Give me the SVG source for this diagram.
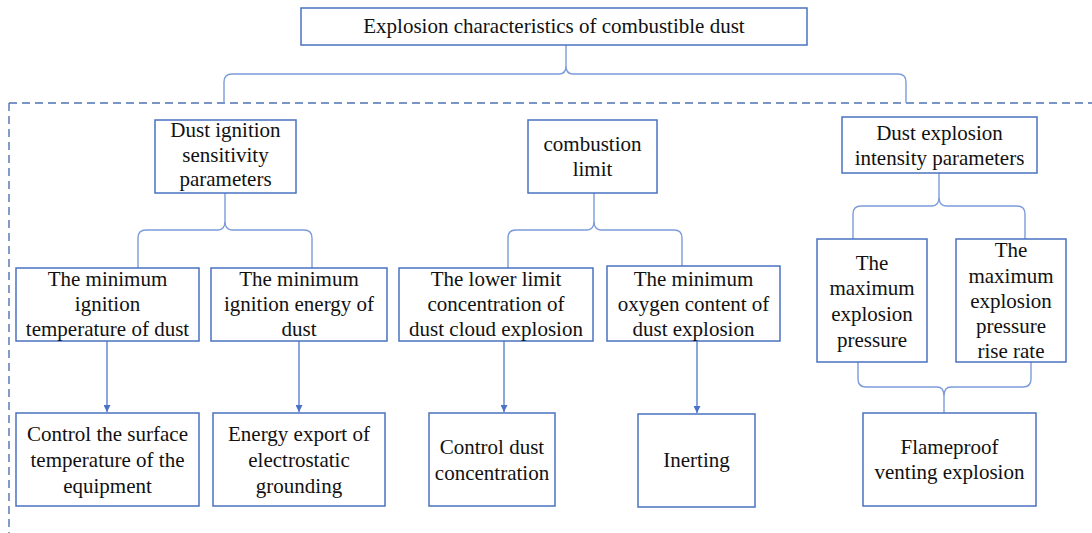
<svg xmlns="http://www.w3.org/2000/svg" width="1092" height="533" viewBox="0 0 1092 533">
<defs>
<style>
.box{fill:#fff;stroke:#4A72C0;stroke-width:1.5}
.t{font-family:'Liberation Serif',Tinos,'Times New Roman','DejaVu Serif',serif;font-size:21px;fill:#111;text-anchor:middle}
.br{fill:none;stroke:#7C9CDB;stroke-width:1.4}
.ar{fill:none;stroke:#5B82D0;stroke-width:1.4}
.dash{fill:none;stroke:#4E72B3;stroke-width:1.4;stroke-dasharray:8,5}
</style>
<marker id="ah" viewBox="0 0 10 10" refX="10" refY="5" markerWidth="7" markerHeight="7" markerUnits="userSpaceOnUse" orient="auto">
<path d="M0,0 L10,5 L0,10 Z" fill="#4A72C8"/>
</marker>
</defs>
<rect width="1092" height="533" fill="#fff"/>

<g id="connectors">
<path class="dash" d="M9,103 H1092 M9,103 V533"/>
<path class="br" d="M566,45 V66 M224,103 V82 Q224,74 232,74 H559 Q566,74 566,66 Q566,74 573,74 H898 Q906,74 906,82 V103"/>
<path class="br" d="M225,193 V221 M138,268 V238 Q138,230 146,230 H218 Q225,230 225,221 Q225,230 232,230 H304 Q312,230 312,238 V268"/>
<path class="br" d="M594,193 V221 M508,268 V238 Q508,230 516,230 H587 Q594,230 594,221 Q594,230 601,230 H674 Q682,230 682,238 V266"/>
<path class="br" d="M939,173 V197 M853,239 V214 Q853,206 861,206 H932 Q939,206 939,197 Q939,206 946,206 H1017 Q1025,206 1025,214 V239"/>
<path class="br" d="M944,396 V413 M858,362 V379 Q858,387 866,387 H937 Q944,387 944,396 Q944,387 951,387 H1023 Q1031,387 1031,379 V362"/>
<line class="ar" x1="107" y1="341" x2="107" y2="412" marker-end="url(#ah)"/>
<line class="ar" x1="299" y1="341" x2="299" y2="412" marker-end="url(#ah)"/>
<line class="ar" x1="504" y1="341" x2="504" y2="412" marker-end="url(#ah)"/>
<line class="ar" x1="697" y1="341" x2="697" y2="413" marker-end="url(#ah)"/>
</g>

<g id="root">
<rect class="box" x="301" y="8" width="506" height="37"/>
<text class="t" x="554" y="33">Explosion characteristics of combustible dust</text>
</g>

<g id="ignition-sensitivity">
<rect class="box" x="155" y="120" width="141" height="73"/>
<text class="t" x="225.5" y="137">Dust ignition</text>
<text class="t" x="225.5" y="162">sensitivity</text>
<text class="t" x="225.5" y="186">parameters</text>
</g>

<g id="combustion-limit">
<rect class="box" x="528" y="120" width="129" height="73"/>
<text class="t" x="592.5" y="151">combustion</text>
<text class="t" x="592.5" y="176">limit</text>
</g>

<g id="intensity">
<rect class="box" x="842" y="117" width="195" height="56"/>
<text class="t" x="939.5" y="140">Dust explosion</text>
<text class="t" x="939.5" y="165">intensity parameters</text>
</g>

<g id="min-ign-temp">
<rect class="box" x="16" y="268" width="183" height="73"/>
<text class="t" x="107.5" y="286">The minimum</text>
<text class="t" x="107.5" y="311">ignition</text>
<text class="t" x="107.5" y="336">temperature of dust</text>
</g>

<g id="min-ign-energy">
<rect class="box" x="211" y="268" width="176" height="73"/>
<text class="t" x="299" y="286">The minimum</text>
<text class="t" x="299" y="311">ignition energy of</text>
<text class="t" x="299" y="336">dust</text>
</g>

<g id="lower-limit">
<rect class="box" x="399" y="268" width="194" height="73"/>
<text class="t" x="496" y="286">The lower limit</text>
<text class="t" x="496" y="311">concentration of</text>
<text class="t" x="496" y="336">dust cloud explosion</text>
</g>

<g id="min-oxygen">
<rect class="box" x="607" y="266" width="173" height="75"/>
<text class="t" x="693.5" y="286">The minimum</text>
<text class="t" x="693.5" y="311">oxygen content of</text>
<text class="t" x="693.5" y="336">dust explosion</text>
</g>

<g id="max-pressure">
<rect class="box" x="817" y="239" width="110" height="123"/>
<text class="t" x="872" y="270">The</text>
<text class="t" x="872" y="295">maximum</text>
<text class="t" x="872" y="321">explosion</text>
<text class="t" x="872" y="347">pressure</text>
</g>

<g id="max-rise-rate">
<rect class="box" x="956" y="239" width="110" height="123"/>
<text class="t" x="1011" y="257">The</text>
<text class="t" x="1011" y="283">maximum</text>
<text class="t" x="1011" y="308">explosion</text>
<text class="t" x="1011" y="333">pressure</text>
<text class="t" x="1011" y="358">rise rate</text>
</g>

<g id="control-surface">
<rect class="box" x="16" y="413" width="183" height="93"/>
<text class="t" x="107.5" y="441">Control the surface</text>
<text class="t" x="107.5" y="467">temperature of the</text>
<text class="t" x="107.5" y="493">equipment</text>
</g>

<g id="energy-export">
<rect class="box" x="213" y="413" width="172" height="93"/>
<text class="t" x="299" y="441">Energy export of</text>
<text class="t" x="299" y="467">electrostatic</text>
<text class="t" x="299" y="493">grounding</text>
</g>

<g id="control-dust">
<rect class="box" x="429" y="413" width="126" height="93"/>
<text class="t" x="492" y="454">Control dust</text>
<text class="t" x="492" y="480">concentration</text>
</g>

<g id="inerting">
<rect class="box" x="638" y="414" width="117" height="93"/>
<text class="t" x="696.5" y="467">Inerting</text>
</g>

<g id="flameproof">
<rect class="box" x="863" y="413" width="173" height="93"/>
<text class="t" x="949.5" y="454">Flameproof</text>
<text class="t" x="949.5" y="479">venting explosion</text>
</g>
</svg>
